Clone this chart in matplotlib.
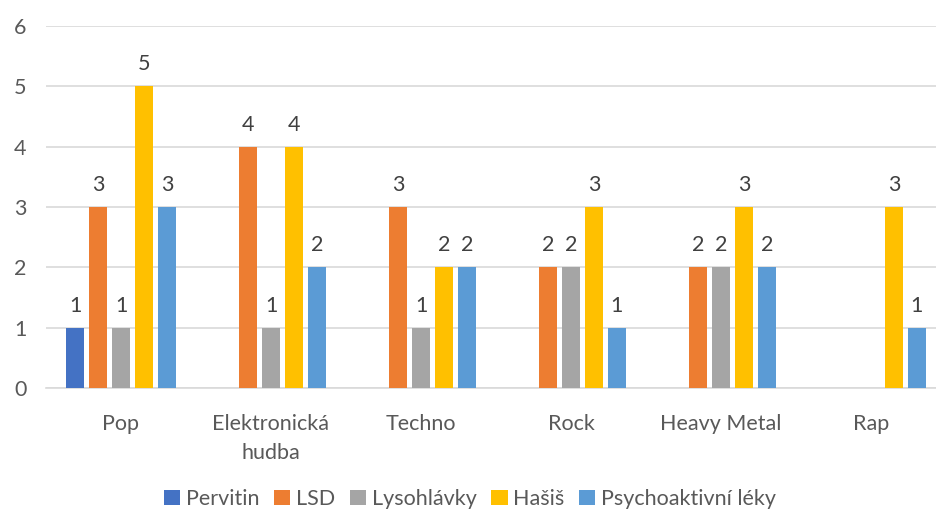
import numpy as np
import matplotlib.pyplot as plt

plt.rcParams['font.family'] = ['Lato', 'DejaVu Sans']

categories = ['Pop', 'Elektronická\nhudba', 'Techno', 'Rock', 'Heavy Metal', 'Rap']
series = ['Pervitin', 'LSD', 'Lysohlávky', 'Hašiš', 'Psychoaktivní léky']
pervitin = [1, 0, 0, 0, 0, 0]
lsd = [3, 4, 3, 2, 2, 0]
lysohlavky = [1, 1, 1, 2, 2, 0]
hasis = [5, 4, 2, 3, 3, 3]
leky = [3, 2, 2, 1, 2, 1]
colors = ['#4472C4', '#ED7D31', '#A5A5A5', '#FFC000', '#5B9BD5']

values = [pervitin, lsd, lysohlavky, hasis, leky]
fs = 15.5

fig = plt.figure(figsize=(9.37, 5.12), dpi=100)
# plot area runs past the right edge like in the cropped original
ax = fig.add_axes([46 / 937, 1 - 388 / 512, 900 / 937, 362 / 512])

x = np.arange(len(categories))
pitch = 0.153
width = 0.125
for i, (name, vals, c) in enumerate(zip(series, values, colors)):
    pos = x + (i - 2) * pitch
    ax.bar(pos, vals, width=width, color=c, label=name, zorder=3)
    for p, v in zip(pos, vals):
        if v > 0:
            ax.text(p, v + 0.2, str(v), ha='center', va='bottom',
                    fontsize=fs, color='#404040')

ax.set_xlim(-0.5, len(categories) - 0.5)
ax.set_ylim(0, 6)
ax.set_yticks(range(7))
ax.yaxis.grid(True, color='#D9D9D9', linewidth=1.2, zorder=0)
ax.set_axisbelow(True)
for s in ['top', 'right', 'left']:
    ax.spines[s].set_visible(False)
ax.spines['bottom'].set_color('#D9D9D9')
ax.spines['bottom'].set_linewidth(1.2)
ax.tick_params(axis='both', length=0, labelsize=fs, colors='#595959')
ax.tick_params(axis='y', pad=14)
ax.tick_params(axis='x', pad=19)
ax.set_xticks(x)
ax.set_xticklabels(categories, linespacing=1.55)

leg = fig.legend(loc='center', bbox_to_anchor=(470 / 937, 1 - 499 / 512), ncol=5,
                 frameon=False, fontsize=fs, handlelength=0.75, handleheight=0.75,
                 handletextpad=0.25, columnspacing=0.7, labelcolor='#595959')

fig.savefig('out.png', dpi=100)
